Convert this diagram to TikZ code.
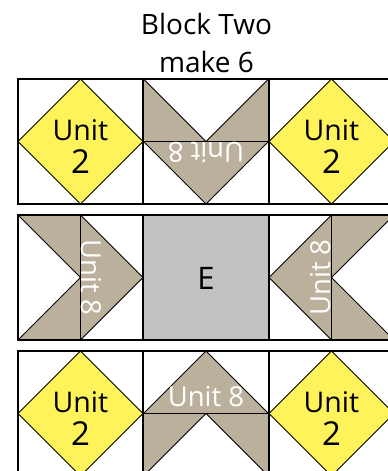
\documentclass[tikz,border=0pt]{standalone}
\usepackage{fontspec}
\setmainfont{Open Sans}
\definecolor{yel}{HTML}{FFF35B}
\definecolor{tanc}{HTML}{BAB09B}
\definecolor{grayc}{HTML}{C1C2C4}
\tikzset{
  cellline/.style={draw=black, line width=1.2pt},
  seam/.style={draw=black, line width=0.8pt},
  unitlbl/.style={font=\fontsize{28.5}{30}\selectfont, inner sep=0pt, anchor=base},
  twolbl/.style={font=\fontsize{33}{35}\selectfont, inner sep=0pt, anchor=base},
  geeselbl/.style={text=white, font=\fontsize{27.5}{29}\selectfont, inner sep=0pt, anchor=base},
  titlelbl/.style={font=\fontsize{28}{30}\selectfont, inner sep=0pt, anchor=base},
  elbl/.style={font=\fontsize{31}{33}\selectfont, inner sep=0pt, anchor=base},
}
\begin{document}
\begin{tikzpicture}[x=1pt,y=-1pt,line join=miter]
\useasboundingbox (0,0) rectangle (388,471);
\clip (0,0) rectangle (388,471);
\fill[white] (0,0) rectangle (388,471);

% title
\node[titlelbl] (title1) at (206.5,34.3) {Block Two};
\node[titlelbl] (title2) at (206.5,72.3) {make 6};

% diamond cells (Unit 2)
\foreach \cx/\cy/\nm in {18/79/a, 269/79/b, 18/351/c, 269/351/d} {
  \begin{scope}[shift={(\cx,\cy)}]
    \filldraw[fill=yel, seam] (62.5,0) -- (125,62.5) -- (62.5,125) -- (0,62.5) -- cycle;
    \draw[cellline] (0,0) rectangle (125,125);
    \node[unitlbl] (unit-\nm) at (62.5,61) {Unit};
    \node[twolbl] (two-\nm) at (62.5,94) {2};
  \end{scope}
}

% top middle: geese pointing down
\begin{scope}[shift={(143.5,79)}]
  \fill[tanc] (0,0) -- (62.5,62.5) -- (0,62.5) -- cycle;
  \fill[tanc] (125,0) -- (125,62.5) -- (62.5,62.5) -- cycle;
  \fill[tanc] (0,62.5) -- (125,62.5) -- (62.5,125) -- cycle;
  \draw[seam] (0,0) -- (62.5,62.5) -- (125,0) (0,62.5) -- (125,62.5) (0,62.5) -- (62.5,125) -- (125,62.5);
  \draw[cellline] (0,0) rectangle (125,125);
  \node[geeselbl, rotate=180] (geese-top) at (62.5,63) {Unit 8};
\end{scope}

% bottom middle: geese pointing up
\begin{scope}[shift={(143.5,351)}]
  \fill[tanc] (0,62.5) -- (62.5,0) -- (125,62.5) -- cycle;
  \fill[tanc] (0,62.5) -- (62.5,62.5) -- (0,125) -- cycle;
  \fill[tanc] (62.5,62.5) -- (125,62.5) -- (125,125) -- cycle;
  \draw[seam] (0,62.5) -- (62.5,0) -- (125,62.5) (0,62.5) -- (125,62.5) (0,125) -- (62.5,62.5) -- (125,125);
  \draw[cellline] (0,0) rectangle (125,125);
  \node[geeselbl] (geese-bottom) at (62.5,55.7) {Unit 8};
\end{scope}

% middle left: geese pointing right
\begin{scope}[shift={(18,215)}]
  \fill[tanc] (0,0) -- (62.5,0) -- (62.5,62.5) -- cycle;
  \fill[tanc] (0,125) -- (62.5,125) -- (62.5,62.5) -- cycle;
  \fill[tanc] (62.5,0) -- (125,62.5) -- (62.5,125) -- cycle;
  \draw[seam] (0,0) -- (62.5,62.5) -- (0,125) (62.5,0) -- (62.5,125) (62.5,0) -- (125,62.5) -- (62.5,125);
  \draw[cellline] (0,0) rectangle (125,125);
  \node[geeselbl, rotate=-90] (geese-left) at (63.5,62.5) {Unit 8};
\end{scope}

% middle right: geese pointing left
\begin{scope}[shift={(269,215)}]
  \fill[tanc] (62.5,0) -- (0,62.5) -- (62.5,125) -- cycle;
  \fill[tanc] (62.5,0) -- (125,0) -- (62.5,62.5) -- cycle;
  \fill[tanc] (62.5,125) -- (125,125) -- (62.5,62.5) -- cycle;
  \draw[seam] (62.5,0) -- (0,62.5) -- (62.5,125) (62.5,0) -- (62.5,125) (125,0) -- (62.5,62.5) -- (125,125);
  \draw[cellline] (0,0) rectangle (125,125);
  \node[geeselbl, rotate=90] (geese-right) at (61.5,62.5) {Unit 8};
\end{scope}

% centre square E
\begin{scope}[shift={(143.5,215)}]
  \filldraw[fill=grayc, cellline] (0,0) rectangle (125,125);
  \node[elbl] (centre) at (62.5,74.3) {E};
\end{scope}
\end{tikzpicture}
\end{document}
